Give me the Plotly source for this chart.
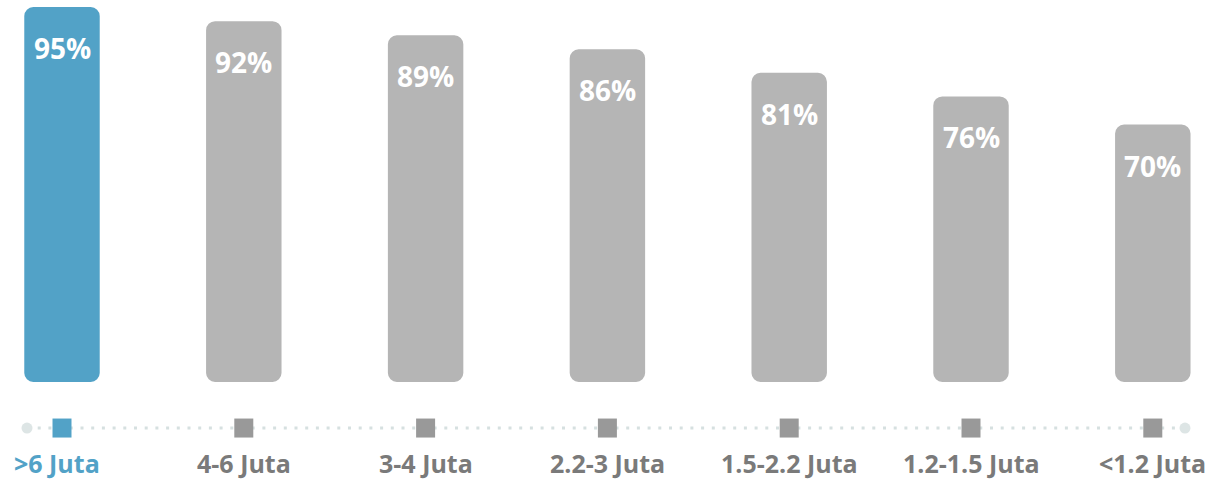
import plotly.graph_objects as go

# data
categories = ['>6 Juta', '4-6 Juta', '3-4 Juta', '2.2-3 Juta', '1.5-2.2 Juta', '1.2-1.5 Juta', '<1.2 Juta']
pct = [95, 92, 89, 86, 81, 76, 70]
highlight = 0   # first group is coloured

BLUE = '#52A2C7'
BAR_GREY = '#B5B5B5'
MARK_GREY = '#999999'
TEXT_GREY = '#7A7A7A'
TRACK = '#D6E0E0'
FONT = 'Open Sans'

# the value axis does not start at zero in the original
y_floor = 15.25
y_top = 96.5

x = list(range(len(categories)))
bar_cols = [BLUE if i == highlight else BAR_GREY for i in x]
mark_cols = [BLUE if i == highlight else MARK_GREY for i in x]
lbl_cols = [BLUE if i == highlight else TEXT_GREY for i in x]

fig = go.Figure()

fig.add_bar(x=x, y=[v - y_floor for v in pct], base=y_floor,
            width=0.415, marker=dict(color=bar_cols, cornerradius=9, line_width=0),
            hoverinfo='skip', yaxis='y')

# dotted track with end dots
track_x = [-0.1925, 6.177]
fig.add_scatter(x=track_x, y=[0.535, 0.535], mode='lines', yaxis='y2',
                line=dict(color=TRACK, width=3, dash='3px,7.7px'), hoverinfo='skip')
fig.add_scatter(x=track_x, y=[0.535, 0.535], mode='markers', yaxis='y2',
                marker=dict(color='#DDE5E5', size=11), hoverinfo='skip')
fig.add_scatter(x=x, y=[0.535] * len(x), mode='markers', yaxis='y2',
                marker=dict(symbol='square', size=19, color=mark_cols), hoverinfo='skip')

for i, v in enumerate(pct):
    fig.add_annotation(x=i, y=v, yref='y', yanchor='middle', yshift=-41,
                       text=f'{v}%', showarrow=False,
                       font=dict(family=FONT, size=28, color='white', weight='bold'))
    fig.add_annotation(x=i, y=0.18, yref='y2', yanchor='middle',
                       xshift=-5 if i == 0 else 0,
                       text=categories[i], showarrow=False,
                       font=dict(family=FONT, size=25, color=lbl_cols[i], weight='bold'))

fig.update_layout(
    width=1207, height=481,
    margin=dict(l=0, r=0, t=0, b=0),
    paper_bgcolor='white', plot_bgcolor='white',
    showlegend=False,
    xaxis=dict(range=[-62 / 181.8, 6 + 54.2 / 181.8], visible=False),
    yaxis=dict(domain=[99 / 481, 1], range=[y_floor, y_top], visible=False),
    yaxis2=dict(domain=[0, 99 / 481], range=[0, 1], visible=False),
)

fig.write_html('out.html', config={'displayModeBar': False},
               post_script="document.body.style.margin='0';")
